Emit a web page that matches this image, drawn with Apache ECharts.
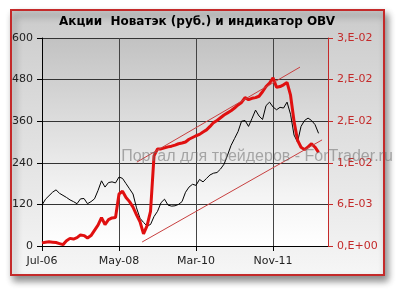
<!DOCTYPE html>
<html><head><meta charset="utf-8">
<script src="https://cdn.jsdelivr.net/npm/echarts@6/dist/echarts.min.js"></script>
<style>html,body{margin:0;padding:0;background:#fff}#c{width:403px;height:294px}</style>
</head><body><div id="c"></div>
<script>
const titleText = 'Акции  Новатэк (руб.) и индикатор OBV';
const watermarkText = 'Портал для трейдеров - ForTrader.ru';
// x axis: months since Jul-06, a tick every 22 months
const tickLabels = ['Jul-06', 'May-08', 'Mar-10', 'Nov-11'];
const tickStep = 22;
const xMax = 81.7;
// share price (rub.), one value per month from Jul-06
const price = [118,135,145,155,162,152,146,140,133,128,122,136,137,122,128,136,160,188,170,183,
  185,182,199,195,180,165,150,110,80,68,58,62,85,100,125,135,118,115,116,120,
  128,155,170,178,175,192,185,195,205,210,212,222,236,262,290,310,330,360,362,345,
  368,392,375,365,405,415,401,393,400,398,415,380,320,300,345,362,369,362,350,325];
// OBV indicator, one value per month
const obv = [0.00045,0.00055,0.0006,0.00055,0.0005,0.00035,0.0002,0.00075,0.0011,0.001,
  0.0012,0.0016,0.0015,0.00115,0.0015,0.00225,0.003,0.0041,0.0031,0.0038,
  0.00405,0.0041,0.0075,0.0079,0.007,0.0064,0.0056,0.0045,0.0035,0.00175,
  0.0029,0.005,0.013,0.014,0.014,0.01415,0.0143,0.0144,0.01455,0.01475,
  0.01485,0.015,0.0154,0.01565,0.0159,0.0161,0.01645,0.01675,0.01725,0.0178,
  0.0181,0.0185,0.0189,0.0192,0.0195,0.0199,0.02035,0.0207,0.0214,0.0211,
  0.0213,0.0214,0.0216,0.02225,0.023,0.0235,0.02425,0.0229,0.023,0.02325,
  0.0236,0.02175,0.018,0.01525,0.01425,0.0139,0.0143,0.01475,0.01425,0.0135];
// trend channel lines (month, price units)
const channelUpper = [[27.1, 242], [73.7, 516]];
const channelLower = [[28.6, 11.5], [80, 306]];

const priceData = price.map((v, i) => [i, v]);
const obvData = obv.map((v, i) => [i, v]);

function expLabel(v) {
  if (v === 0) return '0,E+00';
  let e = Math.floor(Math.log10(v) + 1e-9);
  let m = Math.round(v / Math.pow(10, e));
  if (m >= 10) { m = 1; e++; }
  const a = Math.abs(e);
  return m + ',E' + (e < 0 ? '-' : '+') + (a < 10 ? '0' + a : a);
}

const chart = echarts.init(document.getElementById('c'), null, {renderer: 'canvas'});
const font = 'DejaVu Sans';
chart.setOption({
  animation: false,
  backgroundColor: '#ffffff',
  graphic: [
    {type: 'rect', z: -10, shape: {x: 11, y: 10, width: 373, height: 265},
     style: {fill: {type: 'linear', x: 0, y: 0, x2: 0, y2: 1,
       colorStops: [{offset: 0, color: '#cbcbcb'}, {offset: 1, color: '#f6f6f6'}]},
       stroke: '#c42a2a', lineWidth: 2,
       shadowBlur: 7, shadowOffsetX: 3, shadowOffsetY: 5, shadowColor: 'rgba(0,0,0,0.45)'}},
    {type: 'text', z: 50, x: 197, y: 22,
     style: {text: titleText, font: 'bold 12px "DejaVu Sans"', fill: '#000', textAlign: 'center', textVerticalAlign: 'middle'}},
    {type: 'text', z: 100, x: 257, y: 157,
     style: {text: watermarkText, font: '16px "Liberation Sans"', fill: 'rgba(110,110,110,0.55)', textAlign: 'center', textVerticalAlign: 'middle'}}
  ],
  grid: {left: 42, right: 75, top: 38, bottom: 48, show: true, borderWidth: 0,
    backgroundColor: {type: 'linear', x: 0, y: 0, x2: 0, y2: 1,
      colorStops: [{offset: 0, color: '#c2c2c2'}, {offset: 0.75, color: '#f4f4f4'}, {offset: 1, color: '#ffffff'}]}},
  xAxis: {
    type: 'value', min: 0, max: xMax, interval: tickStep,
    axisLine: {lineStyle: {color: '#000', width: 1}},
    axisTick: {length: 5, lineStyle: {color: '#000'}},
    axisLabel: {color: '#222', fontFamily: font, fontSize: 11, margin: 10, showMaxLabel: false,
      formatter: v => { const k = Math.round(v / tickStep); return (Math.abs(v - k * tickStep) < 1e-6 && tickLabels[k]) ? tickLabels[k] : ''; }},
    splitLine: {show: true, lineStyle: {color: '#444', width: 1}}
  },
  yAxis: [
    {type: 'value', min: 0, max: 600, interval: 120, position: 'left',
     axisLine: {show: true, lineStyle: {color: '#000'}},
     axisTick: {show: true, length: 5, lineStyle: {color: '#000'}},
     axisLabel: {color: '#222', fontFamily: font, fontSize: 11, margin: 9},
     splitLine: {show: true, lineStyle: {color: '#333', width: 1}}},
    {type: 'value', min: 0, max: 0.03, interval: 0.006, position: 'right',
     axisLine: {show: true, lineStyle: {color: '#c42a2a'}},
     axisTick: {show: true, length: 5, lineStyle: {color: '#c42a2a'}},
     axisLabel: {color: '#c42a2a', fontFamily: font, fontSize: 11, margin: 9, formatter: expLabel},
     splitLine: {show: false}}
  ],
  series: [
    {type: 'line', name: 'price', yAxisIndex: 0, data: priceData, symbol: 'none',
     lineStyle: {color: '#000', width: 1}, z: 3},
    {type: 'line', name: 'OBV', yAxisIndex: 1, data: obvData, symbol: 'none',
     lineStyle: {color: '#e01010', width: 3}, z: 4},
    {type: 'line', name: 'up', yAxisIndex: 0, data: channelUpper, symbol: 'none',
     lineStyle: {color: '#c84040', width: 1}, z: 5},
    {type: 'line', name: 'low', yAxisIndex: 0, data: channelLower, symbol: 'none',
     lineStyle: {color: '#c84040', width: 1}, z: 5}
  ]
});
</script></body></html>
